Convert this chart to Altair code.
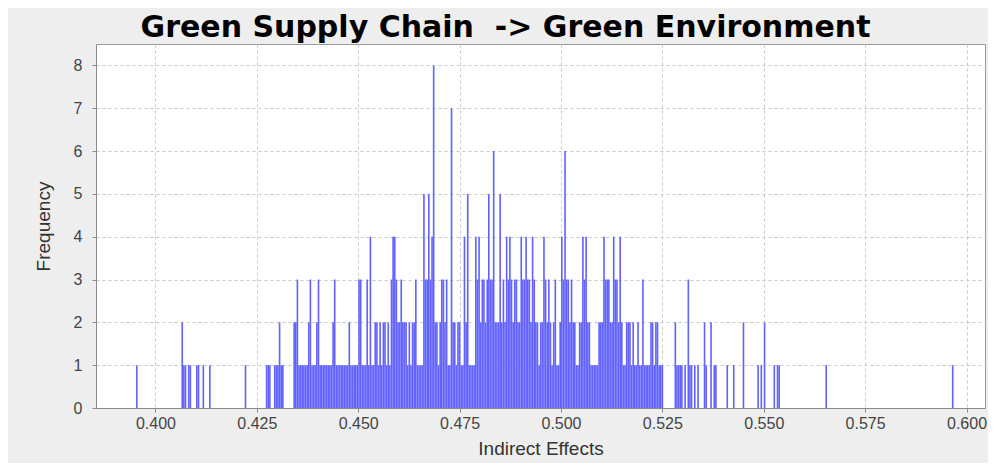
import altair as alt
import pandas as pd

title_text = "Green Supply Chain\u00a0 -> Green Environment"
x_title = "Indirect Effects"
y_title = "Frequency"

# histogram bins: start of first bin and bin width (data units)
bin_start = 0.3952
bin_width = 0.0004

# counts per consecutive bin (20 bins per row)
counts = (
    [1, 0, 0, 0, 0, 0, 0, 0, 0, 0, 0, 0, 0, 0, 0, 0, 0, 0, 0, 0]
    + [0, 0, 0, 0, 0, 0, 0, 0, 2, 1, 1, 0, 1, 1, 0, 0, 0, 1, 1, 0]
    + [0, 1, 0, 0, 0, 1, 0, 0, 0, 0, 0, 0, 0, 0, 0, 0, 0, 0, 0, 0]
    + [0, 0, 0, 0, 0, 0, 0, 1, 0, 0, 0, 0, 0, 0, 0, 0, 0, 0, 0, 0]
    + [1, 1, 1, 0, 0, 1, 1, 1, 2, 1, 1, 0, 0, 0, 0, 0, 0, 2, 2, 3]
    + [1, 1, 1, 1, 1, 1, 2, 3, 1, 1, 1, 2, 3, 1, 1, 1, 1, 1, 1, 1]
    + [1, 2, 3, 1, 1, 1, 1, 1, 1, 1, 1, 2, 1, 1, 1, 1, 1, 3, 3, 1]
    + [1, 1, 3, 1, 4, 1, 1, 2, 2, 1, 2, 1, 2, 2, 1, 2, 1, 3, 4, 4]
    + [3, 2, 2, 3, 2, 2, 2, 1, 2, 1, 2, 2, 3, 1, 1, 1, 1, 5, 3, 3]
    + [5, 3, 4, 8, 2, 2, 1, 2, 3, 3, 2, 3, 1, 1, 7, 2, 2, 1, 2, 2]
    + [1, 1, 4, 2, 5, 1, 1, 1, 1, 4, 3, 4, 2, 3, 3, 2, 3, 5, 3, 3]
    + [6, 2, 2, 2, 5, 2, 3, 2, 4, 3, 4, 3, 2, 3, 3, 2, 2, 4, 3, 3]
    + [4, 3, 3, 2, 4, 3, 2, 2, 1, 2, 2, 4, 3, 2, 3, 2, 1, 2, 3, 1]
    + [1, 2, 4, 3, 6, 3, 3, 2, 3, 2, 2, 1, 1, 2, 2, 4, 3, 4, 2, 2]
    + [1, 1, 1, 1, 1, 2, 2, 2, 4, 3, 3, 3, 2, 2, 4, 3, 3, 2, 4, 2]
    + [1, 1, 2, 2, 2, 1, 2, 1, 1, 2, 1, 1, 3, 1, 1, 1, 1, 2, 2, 1]
    + [2, 2, 1, 1, 1, 0, 0, 0, 0, 0, 0, 0, 2, 1, 1, 1, 1, 0, 1, 0]
    + [3, 1, 1, 0, 1, 0, 1, 0, 0, 0, 2, 1, 0, 0, 2, 0, 1, 1, 0, 0]
    + [0, 0, 0, 0, 1, 0, 0, 0, 1, 0, 0, 0, 0, 0, 2, 0, 0, 0, 0, 0]
    + [0, 0, 0, 1, 0, 1, 0, 2, 0, 0, 0, 0, 0, 1, 0, 1, 1, 0, 0, 0]
    + [0, 0, 0, 0, 0, 0, 0, 0, 0, 0, 0, 0, 0, 0, 0, 0, 0, 0, 0, 0]
    + [0, 0, 0, 0, 0, 1, 0, 0, 0, 0, 0, 0, 0, 0, 0, 0, 0, 0, 0, 0]
    + [0, 0, 0, 0, 0, 0, 0, 0, 0, 0, 0, 0, 0, 0, 0, 0, 0, 0, 0, 0]
    + [0, 0, 0, 0, 0, 0, 0, 0, 0, 0, 0, 0, 0, 0, 0, 0, 0, 0, 0, 0]
    + [0, 0, 0, 0, 0, 0, 0, 0, 0, 0, 0, 0, 0, 0, 0, 0, 0, 0, 0, 0]
    + [0, 0, 0, 1]
)

x_ticks = [0.400, 0.425, 0.450, 0.475, 0.500, 0.525, 0.550, 0.575, 0.600]
y_ticks = [0, 1, 2, 3, 4, 5, 6, 7, 8]
x_domain = [0.38533, 0.60456]
y_domain = [0, 8.5]

rows = []
for i, c in enumerate(counts):
    if c > 0:
        lo = bin_start + i * bin_width
        rows.append({"lo": lo, "hi": lo + bin_width, "base": 0, "count": c})
df = pd.DataFrame(rows)

FONT = "Liberation Sans"

bars = alt.Chart(df).mark_bar(color="#6262ff", strokeWidth=0).encode(
    x=alt.X(
        "lo:Q",
        scale=alt.Scale(domain=x_domain, nice=False, zero=False),
        axis=alt.Axis(
            values=x_ticks,
            format=".3f",
            title=x_title,
            labelFontSize=16,
            labelPadding=3,
            titleFontSize=19,
            titlePadding=8,
        ),
    ),
    x2="hi:Q",
    y=alt.Y(
        "count:Q",
        scale=alt.Scale(domain=y_domain, nice=False),
        axis=alt.Axis(
            values=y_ticks,
            format="d",
            title=y_title,
            labelFontSize=16,
            labelPadding=10,
            titleFontSize=19,
            titlePadding=20,
        ),
    ),
    y2="base:Q",
)

chart = (
    bars.properties(
        width=889,
        height=364,
        autosize=alt.AutoSizeParams(type="none"),
        padding={"left": 88, "top": 36, "right": 3, "bottom": 55},
        background="#eeeeee",
        title=alt.TitleParams(
            text=title_text,
            font="DejaVu Sans",
            fontSize=30,
            fontWeight="bold",
            color="#000000",
            anchor="middle",
            dx=-35,
            offset=1,
        ),
    )
    .configure_view(fill="white", stroke="#999999", strokeWidth=1)
    .configure_axis(
        labelFont=FONT,
        titleFont=FONT,
        labelColor="#444444",
        titleColor="#333333",
        titleFontWeight="normal",
        tickColor="#888888",
        tickSize=4,
        domainColor="#888888",
        grid=True,
        gridColor="#c8c8c8",
        gridDash=[3, 3],
        gridWidth=1,
    )
)

chart.save("out.html", embed_options={"renderer": "svg", "actions": False})
